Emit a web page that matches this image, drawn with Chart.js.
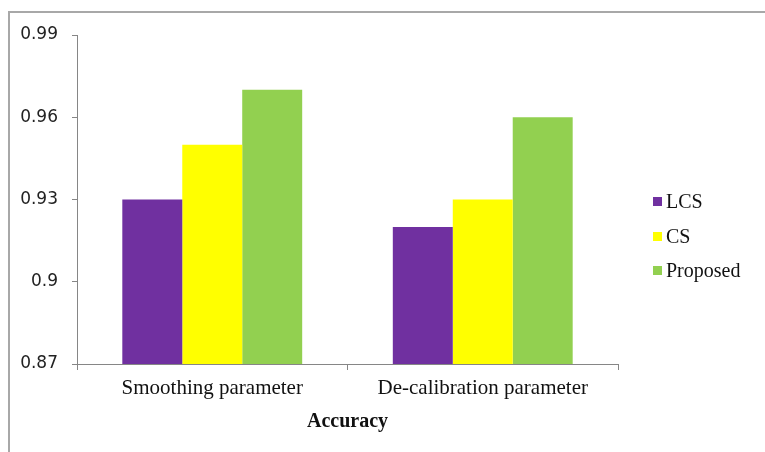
<!DOCTYPE html>
<html>
<head>
<meta charset="utf-8">
<script src="https://cdn.jsdelivr.net/npm/chart.js@4/dist/chart.umd.min.js"></script>
<style>
  html, body { margin: 0; padding: 0; background: #fff; }
  #wrap { position: relative; width: 765px; height: 452px; }
  #frame { position: absolute; left: 8px; top: 11px; right: 0; bottom: 0;
           border-left: 2px solid #a8a8a8; border-top: 2px solid #a8a8a8; pointer-events: none; }
</style>
</head>
<body>
<div id="wrap">
  <canvas id="canvas" width="765" height="452"></canvas>
  <div id="frame"></div>
</div>
<script>
// data
const categories = ['Smoothing parameter', 'De-calibration parameter'];
const seriesNames = ['LCS', 'CS', 'Proposed'];
const lcsValues = [0.93, 0.92];
const csValues = [0.95, 0.93];
const proposedValues = [0.97, 0.96];
const yTicks = [0.87, 0.9, 0.93, 0.96, 0.99];
const axisTitle = 'Accuracy';

const colors = ['#7030a0', '#ffff00', '#92d050'];
const axisColor = '#868686';

// simple legend drawn on the canvas, right of the plot
const sideLegend = {
  id: 'sideLegend',
  afterDraw(chart) {
    const ctx = chart.ctx;
    const rows = [202, 237, 271];
    ctx.save();
    ctx.font = '20px "Liberation Serif", serif';
    ctx.textBaseline = 'middle';
    chart.data.datasets.forEach((ds, i) => {
      ctx.fillStyle = ds.backgroundColor;
      ctx.fillRect(653, rows[i] - 5, 9, 9);
      ctx.fillStyle = '#111';
      ctx.fillText(ds.label, 666, rows[i] + 1);
    });
    ctx.restore();
  }
};

new Chart(document.getElementById('canvas').getContext('2d'), {
  type: 'bar',
  data: {
    labels: categories,
    datasets: [
      { label: seriesNames[0], data: lcsValues, backgroundColor: colors[0] },
      { label: seriesNames[1], data: csValues, backgroundColor: colors[1] },
      { label: seriesNames[2], data: proposedValues, backgroundColor: colors[2] },
    ]
  },
  options: {
    responsive: false,
    animation: false,
    layout: { padding: { left: 0, top: 35, right: 147, bottom: 0 } },
    datasets: { bar: { barPercentage: 1, categoryPercentage: 0.665 } },
    plugins: {
      legend: { display: false },
      tooltip: { enabled: false }
    },
    scales: {
      x: {
        grid: { drawOnChartArea: false, tickLength: 6, color: axisColor, offset: true },
        border: { color: axisColor, width: 1 },
        ticks: {
          padding: 6,
          color: '#111',
          font: { family: '"Liberation Serif", serif', size: 21 }
        },
        title: {
          display: true,
          text: axisTitle,
          color: '#111',
          font: { family: '"Liberation Serif", serif', size: 20, weight: 'bold' },
          padding: { top: 4, bottom: 18 }
        },
        afterFit: (s) => { s.height = 88; }
      },
      y: {
        min: yTicks[0],
        max: yTicks[yTicks.length - 1],
        grid: { drawOnChartArea: false, tickLength: 5, color: axisColor },
        border: { color: axisColor, width: 1 },
        afterBuildTicks: (s) => { s.ticks = yTicks.map(v => ({ value: v })); },
        ticks: {
          padding: 14,
          color: '#222',
          font: { family: '"DejaVu Sans", sans-serif', size: 17 },
          callback: (v) => String(Number(v.toFixed(2)))
        },
        afterFit: (s) => { s.width = 77; }
      }
    }
  },
  plugins: [sideLegend]
});
</script>
</body>
</html>
